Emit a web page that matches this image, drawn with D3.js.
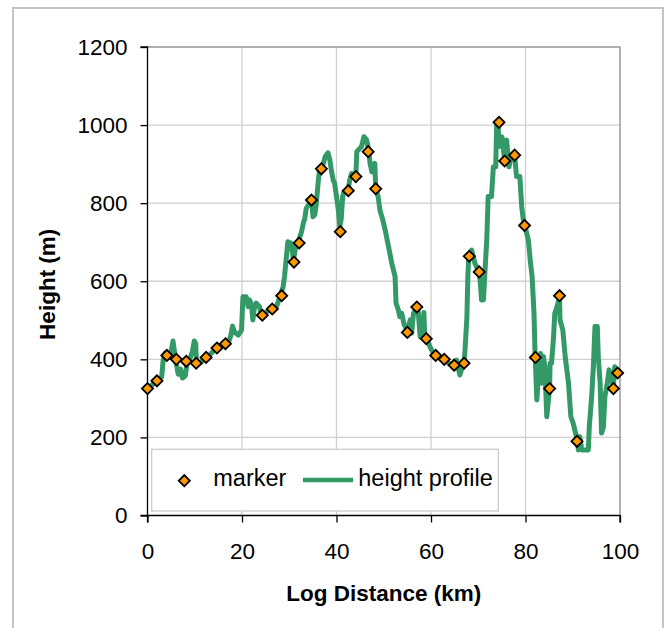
<!DOCTYPE html>
<html>
<head>
<meta charset="utf-8">
<script src="https://cdn.jsdelivr.net/npm/d3@7"></script>
<style>
  html, body { margin: 0; padding: 0; background: #ffffff; }
  svg { display: block; }
  text { font-family: "Liberation Sans", Arial, sans-serif; }
</style>
</head>
<body>
<svg id="chart" width="667" height="628"></svg>
<script>
// ---- data ----
const xTicks = [0, 20, 40, 60, 80, 100];
const yTicks = [0, 200, 400, 600, 800, 1000, 1200];
const seriesNames = ["marker", "height profile"];

const markerKm = [0, 2.0, 4.1, 6.1, 8.2, 10.3, 12.4, 14.7, 16.5, 24.3, 26.4, 28.4, 31.0, 32.1, 34.7, 36.8,
  40.8, 42.5, 44.1, 46.7, 48.3, 55.0, 57.0, 59.0, 61.0, 62.8, 64.9, 67.0, 68.1, 70.2, 74.4, 75.6,
  77.7, 79.8, 82.1, 85.1, 87.2, 90.9, 98.6, 99.5];
const markerM = [325, 345, 410, 400, 395, 390, 405, 429, 440, 513, 529, 563, 649, 698, 808, 888,
  727, 832, 868, 932, 837, 469, 534, 453, 410, 400, 385, 390, 664, 624, 1007, 908,
  923, 743, 405, 325, 563, 190, 325, 365];

const profileKm = [0, 1, 2, 3, 3.3, 3.7, 4.5, 5.0, 5.4, 5.7, 6.0, 6.5, 7.0, 7.4, 8.0, 8.4, 9.0, 9.5, 9.9, 10.2,
  10.4, 11.0, 12.2, 13.2, 14.3, 15.3, 16.4, 17.2, 17.6, 18.0, 18.4, 19.2, 19.9, 20.2, 20.9, 21.3, 21.6, 22.0,
  22.3, 22.6, 23.0, 23.7, 24.1, 25.0, 26.2, 27.3, 28.0, 28.7, 29.0, 29.4, 29.7, 30.4, 30.9, 31.4, 31.9, 32.6,
  33.0, 33.3, 33.6, 34.3, 34.8, 35.0, 35.4, 35.7, 36.1, 36.4, 36.8, 37.2, 37.6, 38.2, 38.6, 38.9, 39.3, 39.6,
  40.0, 40.4, 40.7, 41.0, 41.3, 41.6, 42.5, 42.8, 43.2, 43.8, 44.1, 44.3, 45.3, 45.8, 46.4, 46.8, 47.1, 47.5,
  47.8, 48.1, 48.3, 48.8, 49.2, 49.8, 50.3, 51.0, 51.7, 52.4, 52.6, 53.1, 53.4, 53.8, 54.3, 55.0, 55.6, 55.9,
  56.3, 57.0, 57.3, 57.7, 58.2, 58.5, 58.7, 59.1, 59.8, 60.5, 61.0, 62.0, 62.8, 63.7, 64.9, 65.4, 66.1, 66.5,
  67.0, 67.2, 67.6, 67.8, 68.0, 68.6, 69.3, 70.1, 70.4, 70.7, 71.1, 71.4, 71.8, 72.1, 72.8, 73.2, 73.7, 73.9,
  74.2, 74.4, 75.0, 75.6, 76.0, 76.5, 77.0, 77.7, 78.1, 78.8, 79.2, 79.5, 79.8, 80.6, 81.0, 81.4, 81.8, 82.0,
  82.4, 82.7, 83.2, 83.4, 83.8, 84.1, 84.5, 85.1, 85.2, 85.5, 85.9, 86.2, 86.8, 87.2, 87.3, 87.9, 88.4, 89.1,
  89.6, 90.1, 90.9, 91.2, 91.5, 91.9, 93.3, 93.5, 94.0, 94.4, 94.7, 95.2, 95.4, 95.8, 96.1, 96.5, 96.8, 97.3,
  97.7, 98.6, 98.9, 99.5, 100];
const profileM = [322, 335, 345, 355, 395, 416, 405, 420, 447, 420, 395, 362, 375, 352, 358, 392, 402, 420, 447, 440,
  385, 390, 402, 412, 425, 432, 438, 445, 460, 485, 470, 462, 475, 560, 560, 535, 552, 540,
  501, 530, 544, 535, 513, 520, 528, 535, 560, 586, 612, 663, 701, 697, 655, 690, 701, 727,
  750, 761, 787, 800, 808, 765, 770, 795, 851, 885, 890, 900, 919, 929, 910, 885, 859, 851,
  817, 782, 740, 760, 817, 829, 835, 860, 876, 870, 870, 932, 945, 970, 962, 935, 902, 880,
  881, 902, 840, 817, 782, 757, 731, 689, 646, 612, 544, 526, 509, 518, 490, 472, 501, 467,
  518, 534, 522, 458, 470, 520, 450, 453, 432, 415, 410, 405, 400, 390, 385, 398, 360, 375,
  390, 424, 509, 612, 664, 680, 646, 624, 603, 552, 552, 620, 706, 817, 817, 893, 893, 1005,
  1000, 945, 970, 908, 962, 893, 920, 923, 868, 868, 791, 760, 745, 706, 654, 612, 518, 424,
  296, 356, 415, 339, 407, 381, 253, 325, 390, 390, 450, 518, 540, 565, 501, 475, 407, 339,
  253, 236, 195, 168, 202, 168, 168, 227, 304, 390, 484, 484, 407, 339, 211, 227, 304, 339,
  373, 330, 381, 365, 373];

// ---- layout ----
const W = 667, H = 628;
const L = 147.5, R = 620, T = 47, B = 515.5;
const svg = d3.select("#chart");

const x = d3.scaleLinear().domain([0, 100]).range([L, R]);
const y = d3.scaleLinear().domain([0, 1200]).range([B, T]);

// outer frame
svg.append("rect").attr("x", 13).attr("y", 8).attr("width", 650).attr("height", 640)
  .attr("fill", "#ffffff").attr("stroke", "#c4c4c4").attr("stroke-width", 2);

// gridlines
svg.append("g").selectAll("line").data(yTicks.filter(d => d > 0)).join("line")
  .attr("x1", L).attr("x2", R).attr("y1", d => y(d)).attr("y2", d => y(d))
  .attr("stroke", "#d0d0d0").attr("stroke-width", 1.3);
svg.append("g").selectAll("line").data(xTicks.filter(d => d > 0 && d < 100)).join("line")
  .attr("y1", T).attr("y2", B).attr("x1", d => x(d)).attr("x2", d => x(d))
  .attr("stroke", "#d0d0d0").attr("stroke-width", 1.3);

// plot border (top / right)
svg.append("path").attr("d", `M${L},${T}H${R}V${B}`).attr("fill", "none")
  .attr("stroke", "#808080").attr("stroke-width", 1.2);

// axes
const yAxis = d3.axisLeft(y).tickValues(yTicks).tickSize(7).tickPadding(13).tickFormat(d3.format("d"));
const xAxis = d3.axisBottom(x).tickValues(xTicks).tickSize(7).tickPadding(21).tickFormat(d3.format("d"));

const gy = svg.append("g").attr("transform", `translate(${L},0)`).call(yAxis);
const gx = svg.append("g").attr("transform", `translate(0,${B})`).call(xAxis);
[gy, gx].forEach(g => {
  g.select(".domain").attr("stroke", "#000").attr("stroke-width", 1.3);
  g.selectAll(".tick line").attr("stroke", "#000").attr("stroke-width", 1.3);
  g.selectAll(".tick text").attr("fill", "#000").style("font-size", "22.5px")
    .style("font-family", '"Liberation Sans", Arial, sans-serif');
});
gy.select(".domain").attr("d", `M-7,${B}H0V${T}H-7`);
gx.select(".domain").attr("d", `M${L},7V0H${R}V7`);

// data
const profile = profileKm.map((k, i) => [k, profileM[i]]);
const line = d3.line().x(d => x(d[0])).y(d => y(d[1]));

svg.append("path").datum(profile).attr("d", line).attr("fill", "none")
  .attr("stroke", "#339966").attr("stroke-width", 5).attr("stroke-linejoin", "round");

const diamond = d3.symbol(d3.symbolSquare, 62);
svg.append("g").selectAll("path").data(markerKm.map((k, i) => [k, markerM[i]])).join("path")
  .attr("d", diamond)
  .attr("transform", d => `translate(${x(d[0])},${y(d[1])}) rotate(45)`)
  .attr("fill", "#ff9900").attr("stroke", "#000").attr("stroke-width", 1.8);

// legend
const lg = svg.append("g");
lg.append("rect").attr("x", 151.7).attr("y", 449.3).attr("width", 346.6).attr("height", 61.7)
  .attr("fill", "#ffffff").attr("stroke", "#c8c8c8").attr("stroke-width", 1.2);
lg.append("path").attr("d", diamond).attr("transform", "translate(184.3,480.7) rotate(45)")
  .attr("fill", "#ff9900").attr("stroke", "#000").attr("stroke-width", 1.8);
lg.append("text").attr("x", 213.3).attr("y", 486).text(seriesNames[0])
  .style("font-size", "23.5px").attr("fill", "#000");
lg.append("line").attr("x1", 303).attr("x2", 353).attr("y1", 480).attr("y2", 480)
  .attr("stroke", "#339966").attr("stroke-width", 4.5);
lg.append("text").attr("x", 358.3).attr("y", 486).text(seriesNames[1])
  .style("font-size", "23.5px").attr("fill", "#000");

// axis titles
svg.append("text").attr("x", (L + R) / 2).attr("y", 601).attr("text-anchor", "middle")
  .style("font-size", "22.5px").style("font-weight", "bold").text("Log Distance (km)");
svg.append("text").attr("transform", `translate(55,${(T + B) / 2 + 3}) rotate(-90)`)
  .attr("text-anchor", "middle").style("font-size", "22.5px").style("font-weight", "bold")
  .text("Height (m)");
</script>
</body>
</html>
